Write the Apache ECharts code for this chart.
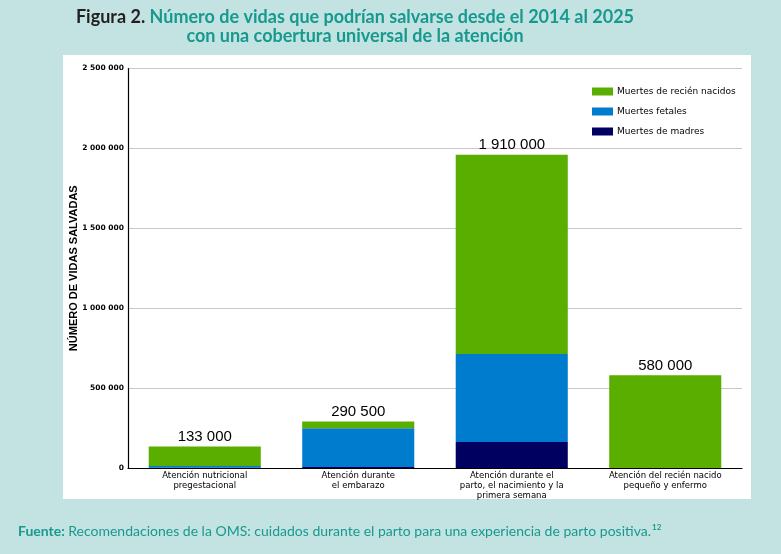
<!DOCTYPE html>
<html>
<head>
<meta charset="utf-8">
<script src="https://cdn.jsdelivr.net/npm/echarts@6/dist/echarts.min.js"></script>
<style>
    html, body { margin: 0; padding: 0; background: #c3e3e3; }
    #chart { width: 781px; height: 554px; }
</style>
</head>
<body>
<div id="chart"></div>
<script>
// categorías y valores
const categories = [
    'Atención nutricional\npregestacional',
    'Atención durante\nel embarazo',
    'Atención durante el\nparto, el nacimiento y la\nprimera semana',
    'Atención del recién nacido\npequeño y enfermo'
];
const madres = [1000, 7000, 163000, 0];
const fetales = [12000, 242000, 550000, 0];
const recienNacidos = [121000, 41500, 1247000, 580000];
const totalLabels = ['133 000', '290 500', '1 910 000', '580 000'];

const fmt = v => String(v).replace(/\B(?=(\d{3})+(?!\d))/g, ' ');

const chart = echarts.init(document.getElementById('chart'));

const option = {
    backgroundColor: '#c3e3e3',
    animation: false,
    title: {
        left: 355,
        top: 8,
        padding: 0,
        textAlign: 'center',
        text: '{a|Figura 2. }{b|Número de vidas que podrían salvarse desde el 2014 al 2025}\n{b|con una cobertura universal de la atención}',
        textStyle: {
            rich: {
                a: { fontFamily: 'Lato', fontWeight: 'bold', fontSize: 18, color: '#231f20', lineHeight: 19 },
                b: { fontFamily: 'Lato', fontWeight: 'bold', fontSize: 18, color: '#17998e', lineHeight: 19 }
            }
        }
    },
    graphic: [
        { type: 'rect', z: -10, shape: { x: 63, y: 55, width: 688, height: 444 }, style: { fill: '#ffffff' } },
        {
            type: 'text', left: 18, top: 523,
            style: {
                text: '{a|Fuente: }{b|Recomendaciones de la OMS: cuidados durante el parto para una experiencia de parto positiva.}{c|12}',
                rich: {
                    a: { fontFamily: 'Lato', fontWeight: 'bold', fontSize: 14, fill: '#17998e' },
                    b: { fontFamily: 'Lato', fontSize: 14, fill: '#17998e' },
                    c: { fontFamily: 'Lato', fontWeight: 'bold', fontSize: 8, fill: '#17998e', verticalAlign: 'top', padding: [0, 0, 9, 1] }
                }
            }
        }
    ],
    legend: {
        orient: 'vertical',
        left: 592,
        top: 87,
        padding: 0,
        itemWidth: 21,
        itemHeight: 8,
        itemGap: 11,
        icon: 'rect',
        textStyle: { fontFamily: 'DejaVu Sans', fontSize: 9, color: '#000', padding: [0, 0, 0, -1] },
        data: ['Muertes de recién nacidos', 'Muertes fetales', 'Muertes de madres']
    },
    grid: { left: 128, right: 39, top: 68.5, bottom: 86 },
    xAxis: {
        type: 'category',
        data: categories,
        axisLine: { lineStyle: { color: '#000', width: 1.2 } },
        axisTick: { show: false },
        axisLabel: {
            interval: 0,
            margin: 3,
            fontFamily: 'DejaVu Sans',
            fontSize: 8.5,
            lineHeight: 10,
            color: '#000'
        }
    },
    yAxis: {
        type: 'value',
        min: 0,
        max: 2500000,
        interval: 500000,
        name: 'NÚMERO DE VIDAS SALVADAS',
        nameLocation: 'middle',
        nameGap: 49,
        nameMoveOverlap: false,
        nameTextStyle: { fontFamily: 'Liberation Sans', fontWeight: 'bold', fontSize: 11, color: '#000' },
        axisLine: { show: true, lineStyle: { color: '#000', width: 1.2 } },
        axisTick: { show: false },
        splitLine: { lineStyle: { color: '#c8c8c8' } },
        axisLabel: {
            margin: 4,
            fontFamily: 'DejaVu Sans',
            fontWeight: 'bold',
            fontSize: 7.5,
            color: '#000',
            formatter: fmt
        }
    },
    series: [
        {
            name: 'Muertes de madres', type: 'bar', stack: 'total',
            barCategoryGap: '27%', data: madres,
            itemStyle: { color: '#000060' }
        },
        {
            name: 'Muertes fetales', type: 'bar', stack: 'total',
            data: fetales,
            itemStyle: { color: '#007ccf' }
        },
        {
            name: 'Muertes de recién nacidos', type: 'bar', stack: 'total',
            data: recienNacidos,
            itemStyle: { color: '#5aae00' },
            label: {
                show: true,
                position: 'top',
                distance: 2,
                fontFamily: 'Liberation Sans',
                fontSize: 15,
                color: '#000',
                formatter: p => totalLabels[p.dataIndex]
            }
        }
    ]
};

chart.setOption(option);
</script>
</body>
</html>
